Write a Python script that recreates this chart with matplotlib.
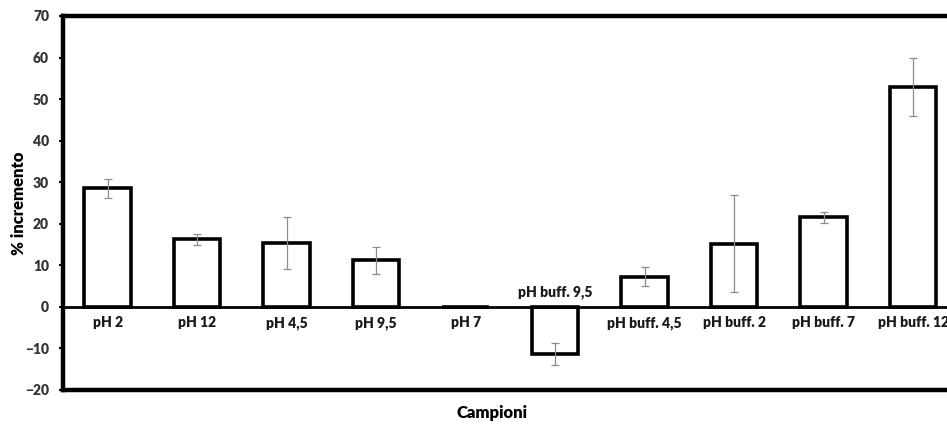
import matplotlib.pyplot as plt
import numpy as np

# data
campioni = ['pH 2', 'pH 12', 'pH 4,5', 'pH 9,5', 'pH 7', 'pH buff. 9,5',
            'pH buff. 4,5', 'pH buff. 2', 'pH buff. 7', 'pH buff. 12']
incremento = [28.5, 16.3, 15.4, 11.2, 0.0, -11.3, 7.3, 15.2, 21.6, 53.0]
errore = [2.3, 1.3, 6.2, 3.2, 0.0, 2.6, 2.3, 11.7, 1.3, 7.0]

plt.rcParams['font.family'] = ['Lato', 'DejaVu Sans']

fig = plt.figure(figsize=(9.47, 4.25), dpi=100)
ax = fig.add_axes([0.0665, 0.0824, 0.945, 0.88])

x = np.arange(len(campioni))
ax.bar(x, incremento, width=0.52, color='white', edgecolor='black', linewidth=2.6, zorder=2)
ax.errorbar(x, incremento, yerr=errore, fmt='none', ecolor='#8c8c8c',
            elinewidth=0.9, capsize=3, capthick=0.9, zorder=3)

ax.axhline(0, color='black', linewidth=2.0, zorder=4)

# category labels next to the zero line
for xi, lab, v in zip(x, campioni, incremento):
    ypos = 3.6 if v < 0 else -3.8
    ax.text(xi, ypos, lab, ha='center', va='center', fontsize=10,
            fontweight='heavy', color='#1a1a1a')

ax.set_xlim(-0.5, len(campioni) - 0.5)
ax.set_ylim(-20, 70)
ax.set_yticks(np.arange(-20, 71, 10))
ax.set_xticks([])
ax.tick_params(axis='y', direction='out', length=3, width=1.5, labelsize=10,
               labelcolor='#333333', pad=7)
for lab in ax.get_yticklabels():
    lab.set_fontweight('heavy')

for side in ['left', 'top', 'bottom', 'right']:
    ax.spines[side].set_linewidth(3.2)

ax.set_ylabel('% incremento', fontsize=12, fontweight='heavy')
ax.yaxis.set_label_coords(-0.04, 0.5)
fig.text(0.52, 0.028, 'Campioni', ha='center', va='center', fontsize=12,
         fontweight='heavy')

plt.savefig('out.png', dpi=100)
